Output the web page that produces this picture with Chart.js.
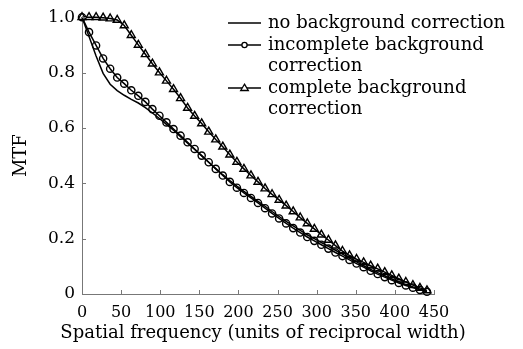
<!DOCTYPE html>
<html>
<head>
<meta charset="utf-8">
<script src="https://cdn.jsdelivr.net/npm/chart.js@4/dist/chart.umd.min.js"></script>
<style>
html,body{margin:0;padding:0;background:#fff;}
#wrap{width:523px;height:349px;position:relative;}
</style>
</head>
<body>
<div id="wrap"><canvas id="c" width="523" height="349"></canvas></div>
<script>
const freq = [0,9,18,27,36,45,54,63,72,81,90,99,108,117,126,135,144,153,162,171,180,189,198,207,216,225,234,243,252,261,270,279,288,297,306,315,324,333,342,351,360,369,378,387,396,405,414,423,432,441];
const noCorrection = [1.0,0.93,0.86,0.797,0.758,0.735,0.718,0.703,0.69,0.673,0.654,0.634,0.613,0.592,0.568,0.545,0.522,0.499,0.476,0.453,0.431,0.41,0.39,0.371,0.353,0.335,0.317,0.298,0.28,0.262,0.246,0.23,0.214,0.2,0.186,0.172,0.158,0.144,0.13,0.116,0.102,0.089,0.077,0.066,0.054,0.044,0.034,0.025,0.017,0.01];
const incompleteCorrection = [1.0,0.946,0.898,0.851,0.814,0.782,0.76,0.736,0.716,0.694,0.668,0.644,0.62,0.596,0.572,0.548,0.524,0.5,0.476,0.452,0.428,0.405,0.384,0.365,0.347,0.329,0.31,0.291,0.273,0.255,0.238,0.222,0.206,0.192,0.178,0.164,0.15,0.137,0.123,0.11,0.097,0.084,0.072,0.061,0.05,0.04,0.031,0.023,0.015,0.008];
const completeCorrection = [1.0,1.0,1.0,0.998,0.995,0.99,0.97,0.935,0.9,0.866,0.832,0.8,0.77,0.74,0.707,0.672,0.643,0.616,0.586,0.558,0.532,0.503,0.477,0.452,0.428,0.405,0.381,0.36,0.34,0.319,0.298,0.276,0.255,0.235,0.214,0.195,0.175,0.155,0.139,0.126,0.114,0.102,0.091,0.079,0.067,0.055,0.043,0.032,0.022,0.013];
const seriesNames = [["no background correction"],["incomplete background","correction"],["complete background","correction"]];
const xTicks = [0,50,100,150,200,250,300,350,400,450];
const yTicks = [0,0.2,0.4,0.6,0.8,1.0];
const xTitle = "Spatial frequency (units of reciprocal width)";
const yTitle = "MTF";

const FONT = "'DejaVu Serif', serif";
const AXIS = "#777";
const TXT = "#000";
const pts = arr => freq.map((f,i)=>({x:f,y:arr[i]}));

const inwardTicks = {
  id:'inwardTicks',
  afterDraw(chart){
    const {ctx} = chart; const xs = chart.scales.x, ys = chart.scales.y;
    ctx.save(); ctx.strokeStyle = AXIS; ctx.lineWidth = 1;
    ctx.beginPath();
    xTicks.forEach(v=>{ const p = Math.round(xs.getPixelForValue(v))+0.5; ctx.moveTo(p, ys.bottom); ctx.lineTo(p, ys.bottom-4); });
    yTicks.forEach(v=>{ const p = Math.round(ys.getPixelForValue(v))+0.5; ctx.moveTo(xs.left, p); ctx.lineTo(xs.left+4, p); });
    ctx.stroke(); ctx.restore();
  }
};

const xAxisTitle = {
  id:'xAxisTitle',
  afterDraw(chart){
    const {ctx} = chart; const xs = chart.scales.x;
    ctx.save();
    ctx.font = "18px " + FONT; ctx.fillStyle = TXT; ctx.textAlign = "center"; ctx.textBaseline = "middle";
    ctx.fillText(xTitle, (xs.left + xs.right)/2 + 5, xs.bottom - 16);
    ctx.restore();
  }
};

const customLegend = {
  id:'customLegend',
  afterDraw(chart){
    const {ctx} = chart;
    ctx.save();
    ctx.font = "18px " + FONT; ctx.textBaseline = "middle";
    const x0 = 228, x1 = 261, tx = 268, rowH = 21;
    let y = 23;
    chart.data.datasets.forEach((ds,i)=>{
      ctx.strokeStyle = "#000"; ctx.lineWidth = 1.4;
      ctx.beginPath(); ctx.moveTo(x0,y); ctx.lineTo(x1,y); ctx.stroke();
      const cx = (x0+x1)/2;
      if (ds.pointStyle === 'circle' && ds.pointRadius > 0){
        ctx.fillStyle = "#fff"; ctx.beginPath(); ctx.arc(cx,y,2.6,0,Math.PI*2); ctx.fill(); ctx.lineWidth=1.3; ctx.stroke();
      } else if (ds.pointStyle === 'triangle'){
        ctx.fillStyle = "#fff"; ctx.beginPath(); ctx.moveTo(cx,y-3.8); ctx.lineTo(cx+3.8,y+2.5); ctx.lineTo(cx-3.8,y+2.5); ctx.closePath(); ctx.fill(); ctx.lineWidth=1.3; ctx.stroke();
      }
      ctx.fillStyle = TXT;
      seriesNames[i].forEach((line,j)=>{ ctx.fillText(line, tx, y + j*rowH); });
      y += rowH*seriesNames[i].length + 1;
    });
    ctx.restore();
  }
};

new Chart(document.getElementById('c'), {
  type:'line',
  data:{
    datasets:[
      {label:seriesNames[0].join(' '), data:pts(noCorrection), borderColor:'#000', borderWidth:1.5, pointRadius:0, pointStyle:'line', tension:0, clip:false},
      {label:seriesNames[1].join(' '), data:pts(incompleteCorrection), borderColor:'#000', borderWidth:1.5, pointStyle:'circle', pointRadius:3.6, pointBorderWidth:1.4, pointBorderColor:'#000', pointBackgroundColor:'rgba(0,0,0,0)', tension:0, clip:false},
      {label:seriesNames[2].join(' '), data:pts(completeCorrection), borderColor:'#000', borderWidth:1.5, pointStyle:'triangle', pointRadius:4.6, pointBorderWidth:1.4, pointBorderColor:'#000', pointBackgroundColor:'rgba(0,0,0,0)', tension:0, clip:false}
    ]
  },
  options:{
    responsive:false, animation:false, devicePixelRatio:1,
    layout:{padding:{left:0, top:16, right:89, bottom:0}},
    plugins:{legend:{display:false}, tooltip:{enabled:false}},
    scales:{
      x:{type:'linear', min:0, max:450,
        afterBuildTicks(s){ s.ticks = xTicks.map(v=>({value:v})); },
        afterFit(s){ s.height = 55; },
        grid:{drawOnChartArea:false, drawTicks:false},
        border:{display:true, color:AXIS, width:1},
        ticks:{color:TXT, font:{family:FONT, size:16}, padding:9, maxRotation:0, autoSkip:false, callback:v=>String(v)},
        title:{display:false}
      },
      y:{type:'linear', min:0, max:1,
        afterBuildTicks(s){ s.ticks = yTicks.map(v=>({value:v})); },
        afterFit(s){ s.width = 82; },
        grid:{drawOnChartArea:false, drawTicks:false},
        border:{display:true, color:AXIS, width:1},
        ticks:{color:TXT, font:{family:FONT, size:17}, padding:7, autoSkip:false, callback:v=> v===0 ? '0' : v.toFixed(1)},
        title:{display:true, text:yTitle, color:TXT, font:{family:FONT, size:18}, padding:{top:11,bottom:0}}
      }
    }
  },
  plugins:[inwardTicks, xAxisTitle, customLegend]
});
</script>
</body>
</html>
